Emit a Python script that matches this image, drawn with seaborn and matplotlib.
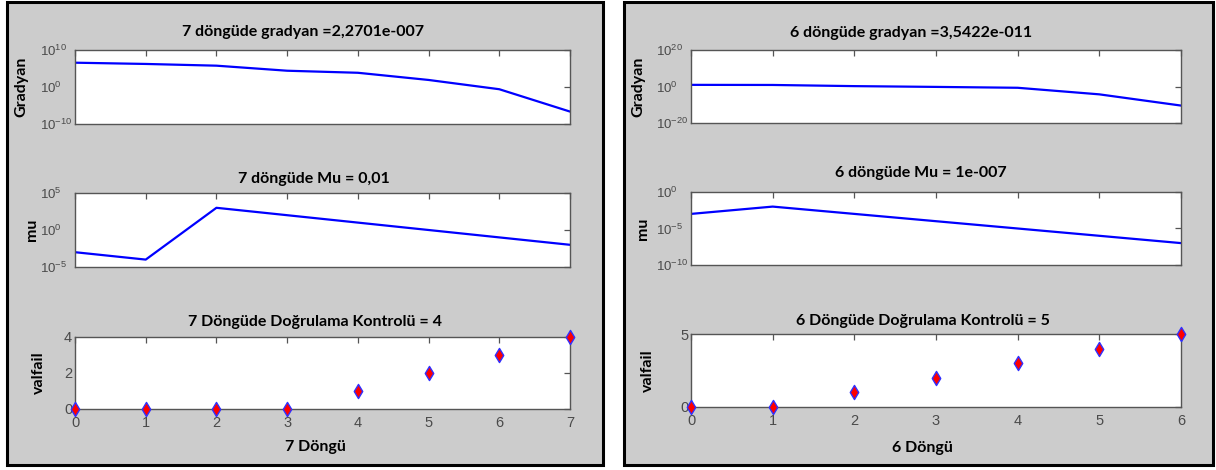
import matplotlib
matplotlib.use("Agg")
import matplotlib.pyplot as plt
import numpy as np
import pandas as pd
import seaborn as sns
from matplotlib.patches import Rectangle
from matplotlib.ticker import FixedLocator, NullLocator, LogFormatterSciNotation

# ---- training record, run A (7 epochs) ----
epochs_a = [0, 1, 2, 3, 4, 5, 6, 7]
grad_a = [3.7e6, 1.7e6, 5.8e5, 2.5e4, 7.0e3, 8.0e1, 2.5e-1, 2.2701e-7]
mu_a = [1e-3, 1e-4, 1e3, 1e2, 1e1, 1e0, 1e-1, 1e-2]
valfail_a = [0, 0, 0, 0, 1, 2, 3, 4]

# ---- training record, run B (6 epochs) ----
epochs_b = [0, 1, 2, 3, 4, 5, 6]
grad_b = [8.0, 7.0, 1.6, 0.6, 0.2, 5e-5, 3.5422e-11]
mu_b = [1e-3, 1e-2, 1e-3, 1e-4, 1e-5, 1e-6, 1e-7]
valfail_b = [0, 0, 1, 2, 3, 4, 5]

titles_a = ["7 döngüde gradyan =2,2701e-007", "7 döngüde Mu = 0,01",
            "7 Döngüde Doğrulama Kontrolü = 4"]
titles_b = ["6 döngüde gradyan =3,5422e-011", "6 döngüde Mu = 1e-007",
            "6 Döngüde Doğrulama Kontrolü = 5"]
xlabel_a = "7 Döngü"
xlabel_b = "6 Döngü"
ylabels = ["Gradyan", "mu", "valfail"]

W, H = 1216, 470
PANEL = "#cccccc"
TICKC = "#4a4a4a"
SPINE = "#555555"
BOLD = dict(family=["Lato", "DejaVu Sans"], weight="bold", size=11.5, color="black")

sns.set_style("white")
plt.rcParams["font.family"] = ["Liberation Sans", "DejaVu Sans"]
plt.rcParams["mathtext.fontset"] = "custom"
plt.rcParams["mathtext.rm"] = "Liberation Sans"
plt.rcParams["mathtext.it"] = "Liberation Sans"

fig = plt.figure(figsize=(W / 100, H / 100), dpi=100)
fig.patch.set_facecolor("white")


def px_rect(x0, y0, x1, y1):
    return [x0 / W, 1 - y1 / H, (x1 - x0) / W, (y1 - y0) / H]


# panel backgrounds with dark frames, kept behind the axes
for (x0, y0, x1, y1) in [(7, 2, 603, 465), (624, 2, 1213, 465)]:
    fig.patches.append(Rectangle((x0 / W, 1 - y1 / H), (x1 - x0) / W, (y1 - y0) / H,
                                 transform=fig.transFigure, facecolor=PANEL,
                                 edgecolor="black", linewidth=2.2, zorder=-5))


def style_axes(ax, nx):
    ax.set_facecolor("white")
    for s in ax.spines.values():
        s.set_visible(True)
        s.set_color(SPINE)
        s.set_linewidth(1.0)
    ax.set_xlim(0, nx)
    ax.xaxis.set_major_locator(FixedLocator(list(range(nx + 1))))
    ax.tick_params(axis="both", which="major", direction="in", length=4, width=0.9,
                   color=SPINE, top=True, right=True, labelcolor=TICKC, labelsize=10.5)
    ax.tick_params(axis="both", which="minor", length=0)
    ax.grid(False)


def draw_run(box, epochs, grad, mu, valfail, titles, xlabel, glim, mlim, vlim, vticks,
             title_gaps, title_shift, ylab_offsets, xlab_gap, xlab_shift):
    nx = epochs[-1]
    x0, x1 = box[0], box[1]
    rows = box[2]
    axes = [fig.add_axes(px_rect(x0, r0, x1, r1)) for (r0, r1) in rows]
    w = x1 - x0

    df = pd.DataFrame({"epoch": epochs, "grad": grad, "mu": mu, "valfail": valfail})

    # gradient and mu on log scales
    for ax, col, lim in [(axes[0], "grad", glim), (axes[1], "mu", mlim)]:
        sns.lineplot(data=df, x="epoch", y=col, ax=ax, color="#0000ff", linewidth=1.6)
        ax.set_yscale("log")
        ax.set_ylim(lim)
        style_axes(ax, nx)
        ax.yaxis.set_major_locator(FixedLocator([lim[0], np.sqrt(lim[0] * lim[1]), lim[1]]))
        ax.yaxis.set_minor_locator(NullLocator())
        ax.yaxis.set_major_formatter(LogFormatterSciNotation())
        ax.tick_params(axis="x", labelbottom=False)
        ax.tick_params(axis="y", pad=25, labelsize=9.5)
        for lab in ax.get_yticklabels():
            lab.set_horizontalalignment("left")

    # validation failures
    ax = axes[2]
    sns.scatterplot(data=df, x="epoch", y="valfail", ax=ax, marker="d", s=52,
                    color="#ff0000", edgecolor="#3030ff", linewidth=1.0,
                    clip_on=False, zorder=5)
    ax.set_ylim(vlim)
    style_axes(ax, nx)
    ax.yaxis.set_major_locator(FixedLocator(vticks))
    ax.tick_params(axis="y", pad=2)
    ax.tick_params(axis="x", pad=5)

    for a, t, gap, dx, lab, off in zip(axes, titles, title_gaps, title_shift,
                                       ylabels, ylab_offsets):
        a.set_title(t, fontdict=BOLD, pad=gap * 0.72, va="center")
        a.title.set_x(0.5 - dx / w)
        a.set_ylabel(lab, fontdict=BOLD)
        a.yaxis.label.set_va("center")
        a.yaxis.set_label_coords(-off / w, 0.5)
        a.set_xlabel("")

    h = axes[2].get_position().height * H
    axes[2].set_xlabel(xlabel, fontdict=BOLD)
    axes[2].xaxis.label.set_va("center")
    axes[2].xaxis.set_label_coords(0.5 - xlab_shift / w, -xlab_gap / h)
    return axes


draw_run((75, 570, [(50, 124), (193, 267), (337, 409)]),
         epochs_a, grad_a, mu_a, valfail_a, titles_a, xlabel_a,
         (1e-10, 1e10), (1e-5, 1e5), (0, 4), [0, 2, 4],
         title_gaps=[18, 14, 15], title_shift=[19, 9, 7],
         ylab_offsets=[54, 43, 36], xlab_gap=38, xlab_shift=7)

draw_run((691, 1181, [(50, 123), (192, 265), (334, 407)]),
         epochs_b, grad_b, mu_b, valfail_b, titles_b, xlabel_b,
         (1e-20, 1e20), (1e-10, 1e0), (0, 5), [0, 5],
         title_gaps=[17, 19, 13], title_shift=[25, 15, 13],
         ylab_offsets=[53, 48, 43], xlab_gap=41, xlab_shift=14)

fig.savefig("out.png", dpi=100, facecolor="white")
